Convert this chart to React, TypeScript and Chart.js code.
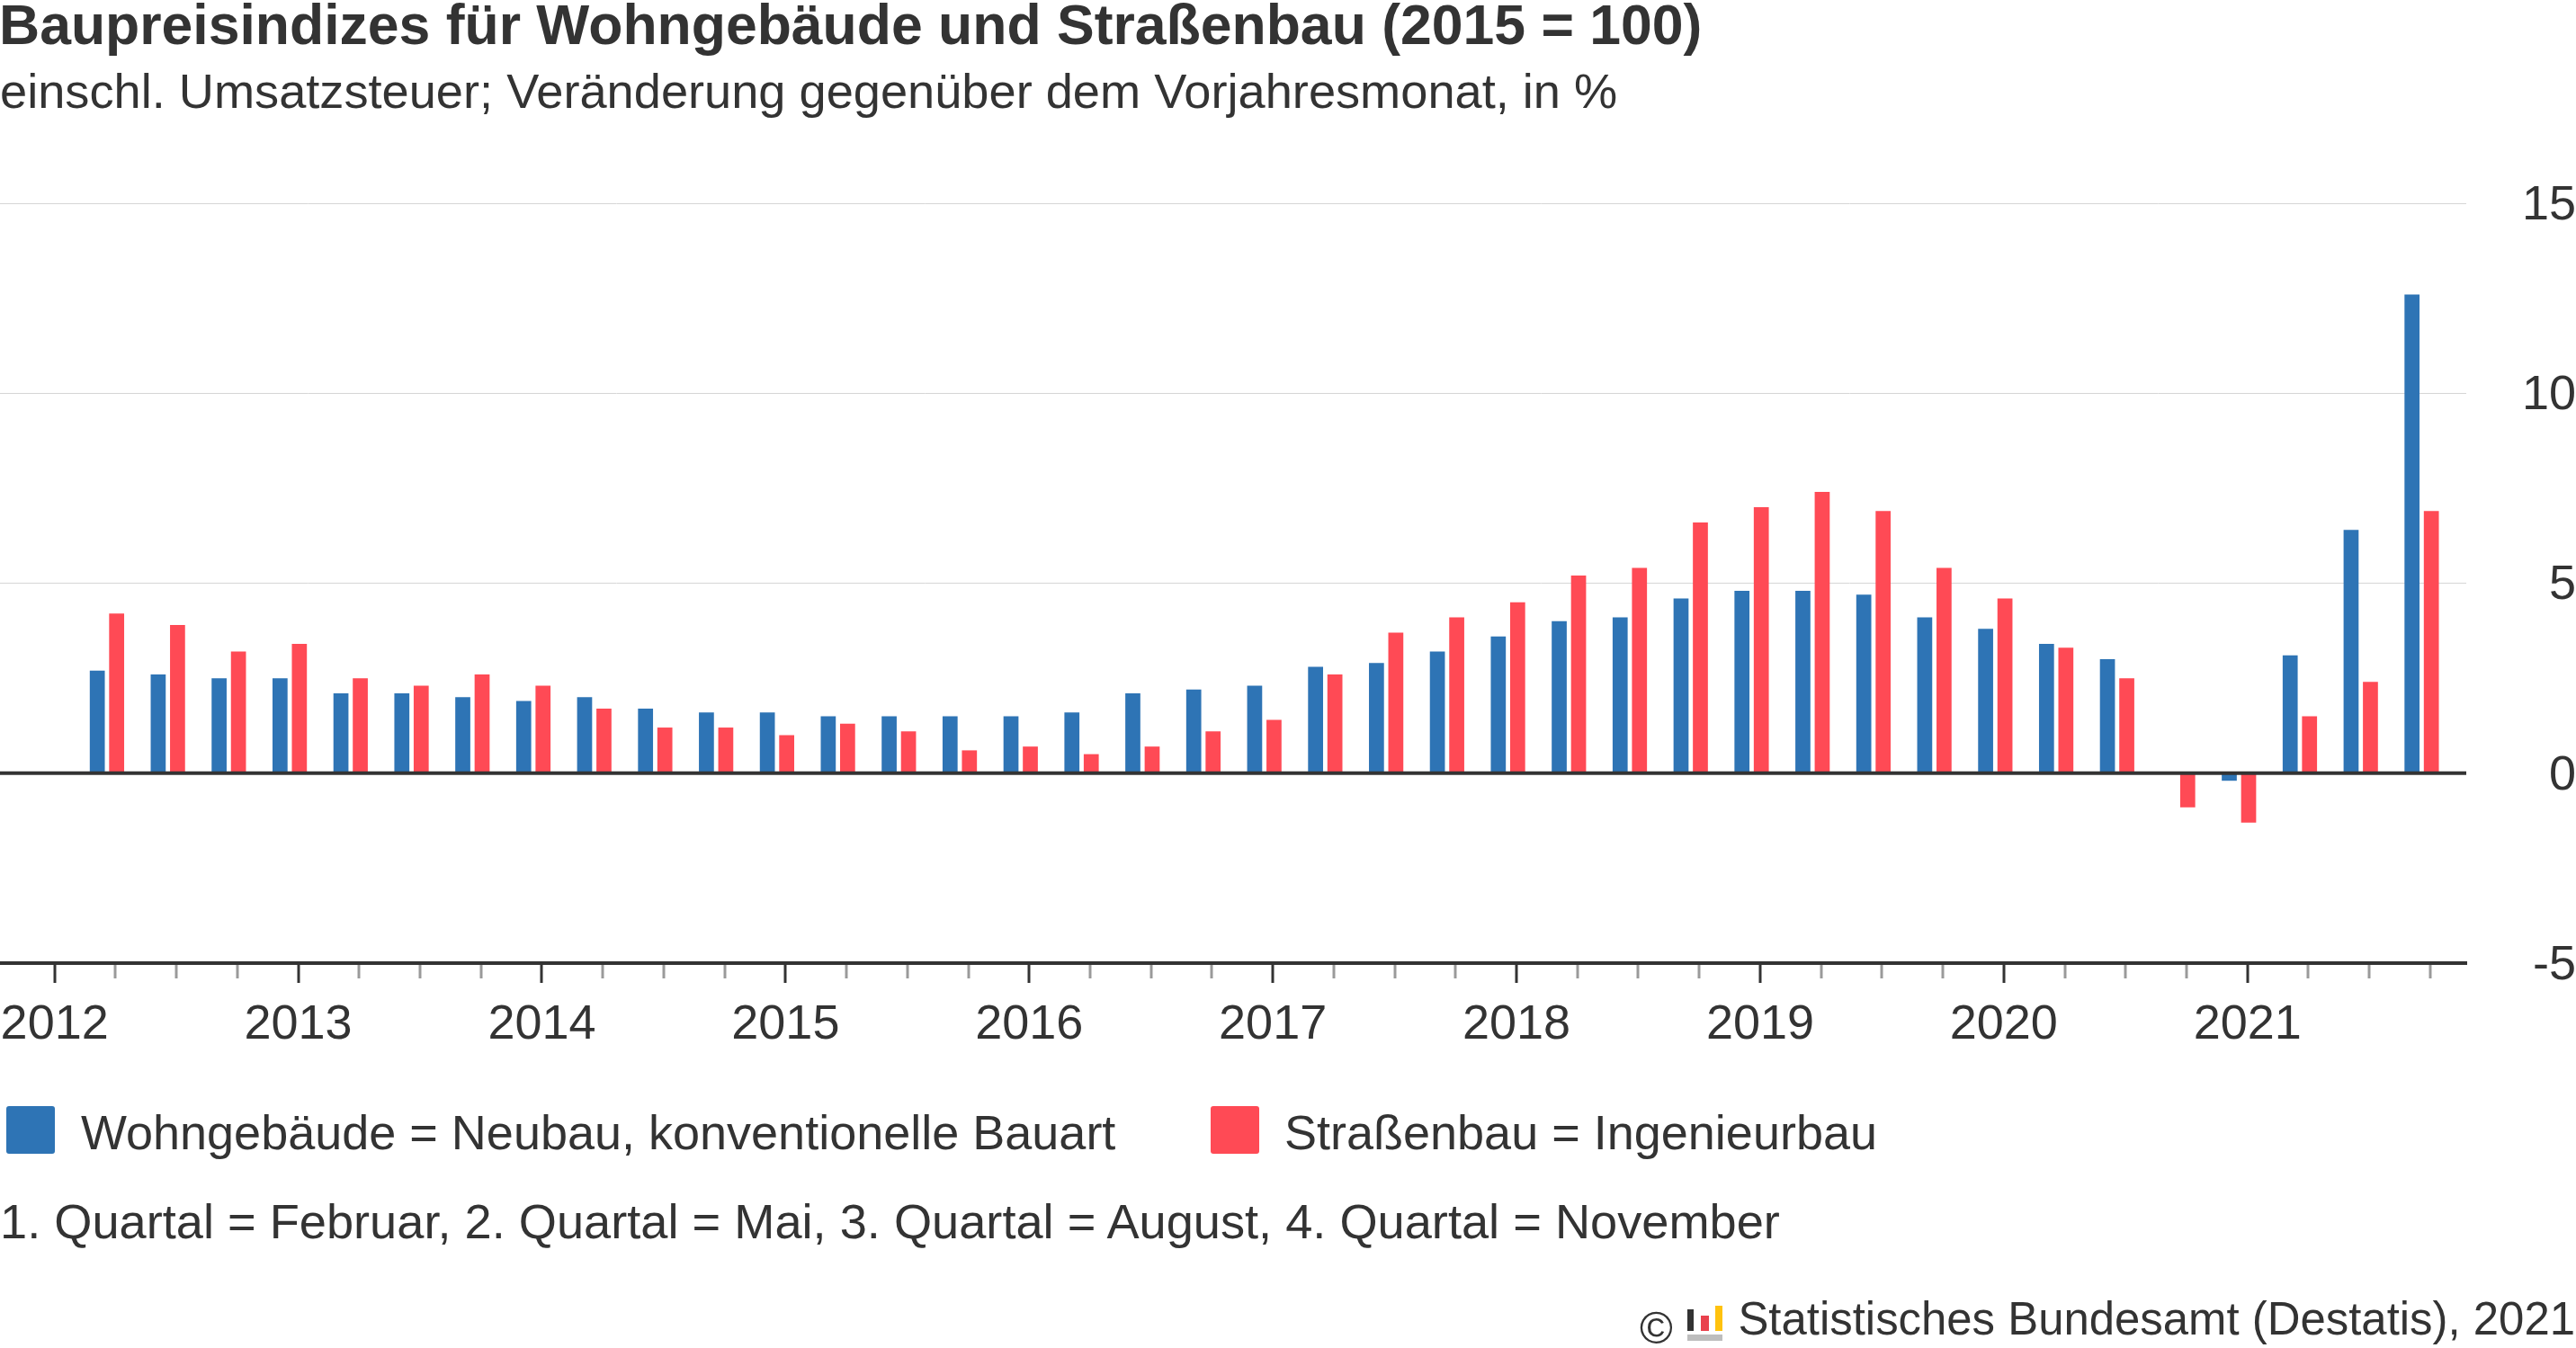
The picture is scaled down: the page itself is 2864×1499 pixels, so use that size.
import React, { useEffect, useRef } from 'react';
import { Chart, registerables } from 'chart.js';

Chart.register(...registerables);

// ---------------- data ----------------
const quarters = [
  '2012 Q1', '2012 Q2', '2012 Q3', '2012 Q4',
  '2013 Q1', '2013 Q2', '2013 Q3', '2013 Q4',
  '2014 Q1', '2014 Q2', '2014 Q3', '2014 Q4',
  '2015 Q1', '2015 Q2', '2015 Q3', '2015 Q4',
  '2016 Q1', '2016 Q2', '2016 Q3', '2016 Q4',
  '2017 Q1', '2017 Q2', '2017 Q3', '2017 Q4',
  '2018 Q1', '2018 Q2', '2018 Q3', '2018 Q4',
  '2019 Q1', '2019 Q2', '2019 Q3', '2019 Q4',
  '2020 Q1', '2020 Q2', '2020 Q3', '2020 Q4',
  '2021 Q1', '2021 Q2', '2021 Q3',
];

const wohngebaeude = [
  2.7, 2.6, 2.5, 2.5,
  2.1, 2.1, 2.0, 1.9,
  2.0, 1.7, 1.6, 1.6,
  1.5, 1.5, 1.5, 1.5,
  1.6, 2.1, 2.2, 2.3,
  2.8, 2.9, 3.2, 3.6,
  4.0, 4.1, 4.6, 4.8,
  4.8, 4.7, 4.1, 3.8,
  3.4, 3.0, 0.0, -0.2,
  3.1, 6.4, 12.6,
];

const strassenbau = [
  4.2, 3.9, 3.2, 3.4,
  2.5, 2.3, 2.6, 2.3,
  1.7, 1.2, 1.2, 1.0,
  1.3, 1.1, 0.6, 0.7,
  0.5, 0.7, 1.1, 1.4,
  2.6, 3.7, 4.1, 4.5,
  5.2, 5.4, 6.6, 7.0,
  7.4, 6.9, 5.4, 4.6,
  3.3, 2.5, -0.9, -1.3,
  1.5, 2.4, 6.9,
];

const yearTicks = [2012, 2013, 2014, 2015, 2016, 2017, 2018, 2019, 2020, 2021];
const yTicks = [-5, 0, 5, 10, 15];

const seriesNames = [
  'Wohngebäude = Neubau, konventionelle Bauart',
  'Straßenbau = Ingenieurbau',
];
const titleText = 'Baupreisindizes für Wohngebäude und Straßenbau (2015 = 100)';
const subtitleText = 'einschl. Umsatzsteuer; Veränderung gegenüber dem Vorjahresmonat, in %';
const noteText = '1. Quartal = Februar, 2. Quartal = Mai, 3. Quartal = August, 4. Quartal = November';
const sourceText = 'Statistisches Bundesamt (Destatis), 2021';

// ---------------- styling / layout ----------------
const BLUE = '#2e74b5';
const RED = '#ff4a55';
const TEXT = '#333333';
const FONT = '"Liberation Sans", Arial, Helvetica, sans-serif';

const W = 2864;
const H = 1499;
const PLOT_TOP = 226;
const PLOT_BOTTOM = 1071;
const Y_AXIS_W = 122;
const X_MIN = 2011.776;
const X_MAX = 2021.898;
const BAR_SHIFT = 0.215;

function quarterPos(label: string): number {
  const [y, q] = label.split(' Q');
  return Number(y) + (Number(q) - 1) * 0.25 + BAR_SHIFT;
}

const axisDecor = {
  id: 'axisDecor',
  afterDatasetsDraw(chart: any) {
    const ctx = chart.ctx;
    const xs = chart.scales.x;
    const ys = chart.scales.y;
    const area = chart.chartArea;
    ctx.save();
    // zero line
    const y0 = ys.getPixelForValue(0);
    ctx.strokeStyle = TEXT;
    ctx.lineWidth = 4;
    ctx.beginPath();
    ctx.moveTo(area.left, y0);
    ctx.lineTo(area.right, y0);
    ctx.stroke();
    // quarter tick marks below the x axis
    const yb = area.bottom + 2;
    for (const yr of yearTicks) {
      for (let q = 0; q < 4; q++) {
        const v = yr + q * 0.25;
        if (v > xs.max) continue;
        const px = Math.round(xs.getPixelForValue(v));
        const major = q === 0;
        ctx.strokeStyle = major ? TEXT : '#9a9a9a';
        ctx.lineWidth = 3;
        ctx.beginPath();
        ctx.moveTo(px, yb);
        ctx.lineTo(px, yb + (major ? 20 : 15));
        ctx.stroke();
      }
    }
    ctx.restore();
  },
};

function ChartCanvas() {
  const ref = useRef<HTMLCanvasElement | null>(null);
  useEffect(() => {
    if (!ref.current) return;
    const chart = new Chart(ref.current, {
      type: 'bar',
      data: {
        datasets: [
          {
            label: seriesNames[0],
            data: quarters.map((q, i) => ({ x: quarterPos(q), y: wohngebaeude[i] })),
            backgroundColor: BLUE,
            borderWidth: 0,
          },
          {
            label: seriesNames[1],
            data: quarters.map((q, i) => ({ x: quarterPos(q), y: strassenbau[i] })),
            backgroundColor: RED,
            borderWidth: 0,
          },
        ],
      },
      options: {
        responsive: false,
        devicePixelRatio: 1,
        animation: false,
        events: [],
        layout: { autoPadding: false, padding: { top: PLOT_TOP, left: 0, right: 0, bottom: 0 } },
        datasets: {
          bar: { categoryPercentage: 0.635, barPercentage: 0.777 },
        },
        plugins: {
          legend: { display: false },
          title: { display: false },
          tooltip: { enabled: false },
        },
        scales: {
          x: {
            type: 'linear',
            position: 'bottom',
            offset: false,
            min: X_MIN,
            max: X_MAX,
            grid: { display: false, drawTicks: false, offset: false },
            border: { display: true, color: TEXT, width: 4 },
            afterBuildTicks: (s: any) => {
              s.ticks = yearTicks.map((v) => ({ value: v }));
            },
            ticks: {
              autoSkip: false,
              maxRotation: 0,
              minRotation: 0,
              padding: 37,
              color: TEXT,
              font: { family: FONT, size: 54 },
              callback: (v: any) => String(v),
            },
            afterFit: (s: any) => {
              s.height = H - PLOT_BOTTOM;
              s.paddingLeft = 0;
              s.paddingRight = 0;
            },
          },
          y: {
            type: 'linear',
            position: 'right',
            min: -5,
            max: 15,
            afterBuildTicks: (s: any) => {
              s.ticks = yTicks.map((v) => ({ value: v }));
            },
            grid: {
              drawTicks: false,
              color: (c: any) =>
                c.tick && (c.tick.value === 0 || c.tick.value === -5) ? 'rgba(0,0,0,0)' : '#d6d6d6',
              lineWidth: 1,
            },
            border: { display: false },
            ticks: {
              crossAlign: 'far',
              padding: 61,
              labelOffset: 3,
              color: TEXT,
              font: { family: FONT, size: 54 },
              callback: (v: any) => String(v),
            },
            afterFit: (s: any) => {
              s.width = Y_AXIS_W;
              s.paddingTop = 0;
              s.paddingBottom = 0;
            },
          },
        },
      } as any,
      plugins: [axisDecor],
    });
    return () => chart.destroy();
  }, []);
  return <canvas ref={ref} width={W} height={H} style={{ position: 'absolute', left: 0, top: 0, width: W, height: H }} />;
}

// place text by its baseline (line-height 1, Liberation Sans metrics)
function textTop(baseline: number, size: number) {
  return baseline - 0.8465 * size;
}

const txt = (size: number, baseline: number, extra: React.CSSProperties = {}): React.CSSProperties => ({
  position: 'absolute',
  top: textTop(baseline, size),
  fontFamily: FONT,
  fontSize: size,
  lineHeight: 1,
  color: TEXT,
  whiteSpace: 'nowrap',
  ...extra,
});

export default function App() {
  useEffect(() => {
    document.body.style.margin = '0';
    document.body.style.overflow = 'hidden';
  }, []);
  const legendColors = [BLUE, RED];
  const legendBoxX = [7, 1346];
  const legendTextX = [90, 1428];
  return (
    <div style={{ position: 'absolute', left: 0, top: 0, width: W, height: H, background: '#fff', overflow: 'hidden' }}>
      <ChartCanvas />
      <div style={txt(62.5, 49, { left: -1, fontWeight: 'bold' })}>{titleText}</div>
      <div style={txt(54.2, 120, { left: 0 })}>{subtitleText}</div>
      {seriesNames.map((name, i) => (
        <React.Fragment key={name}>
          <div
            style={{
              position: 'absolute',
              left: legendBoxX[i],
              top: 1230,
              width: 54,
              height: 53,
              borderRadius: 3,
              background: legendColors[i],
            }}
          />
          <div style={txt(54, 1278, { left: legendTextX[i] })}>{name}</div>
        </React.Fragment>
      ))}
      <div style={txt(54.2, 1377, { left: 0 })}>{noteText}</div>
      <div style={txt(50, 1494, { left: 1823 })}>©</div>
      <div style={{ position: 'absolute', left: 1876, top: 1456, width: 7, height: 24, background: '#333' }} />
      <div style={{ position: 'absolute', left: 1891, top: 1463, width: 9, height: 17, background: '#e9414d' }} />
      <div style={{ position: 'absolute', left: 1907, top: 1452, width: 8, height: 28, background: '#ffc20e' }} />
      <div style={{ position: 'absolute', left: 1876, top: 1484, width: 39, height: 7, background: '#bdbdbd' }} />
      <div style={txt(50.9, 1485, { right: 1, textAlign: 'right' })}>{sourceText}</div>
    </div>
  );
}
